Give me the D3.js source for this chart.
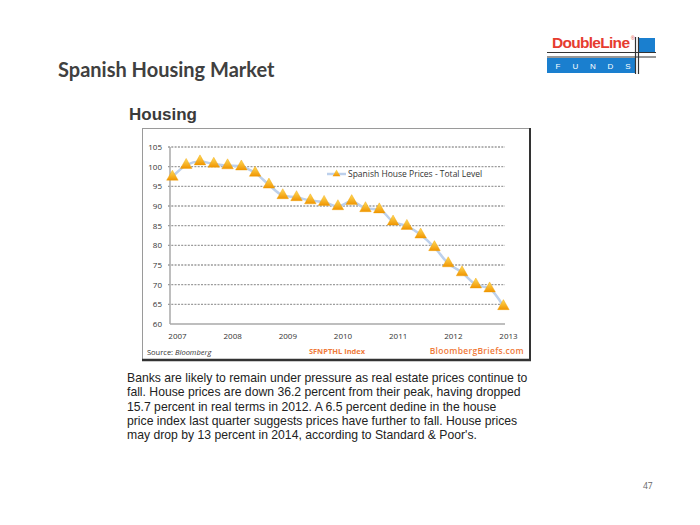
<!DOCTYPE html>
<html><head><meta charset="utf-8">
<script src="https://cdn.jsdelivr.net/npm/d3@7"></script>
<style>body{margin:0;background:#fff}svg{display:block}</style>
</head><body>
<svg id="c" width="700" height="525"></svg>
<script>
const quarters = ["2006Q4","2007Q1","2007Q2","2007Q3","2007Q4","2008Q1","2008Q2","2008Q3","2008Q4",
  "2009Q1","2009Q2","2009Q3","2009Q4","2010Q1","2010Q2","2010Q3","2010Q4","2011Q1","2011Q2","2011Q3",
  "2011Q4","2012Q1","2012Q2","2012Q3","2012Q4"];
const prices = [97.4,100.4,101.3,100.7,100.3,100.0,98.4,95.4,92.7,92.2,91.4,91.0,89.9,91.2,89.4,89.1,
  86.0,84.9,82.7,79.5,75.4,73.1,70.0,69.0,64.5];
const yTicks = [60,65,70,75,80,85,90,95,100,105];
const xTicks = [2007,2008,2009,2010,2011,2012,2013];
const seriesName = "Spanish House Prices - Total Level";
const bodyLines = [
 "Banks are likely to remain under pressure as real estate prices continue to",
 "fall. House prices are down 36.2 percent from their peak, having dropped",
 "15.7 percent in real terms in 2012. A 6.5 percent dedine in the house",
 "price index last quarter suggests prices have further to fall. House prices",
 "may drop by 13 percent in 2014, according to Standard & Poor's."
];

const svg = d3.select("#c");
const defs = svg.append("defs");
const g = defs.append("linearGradient").attr("id","tri").attr("x1",0).attr("y1",0).attr("x2",0).attr("y2",1);
g.append("stop").attr("offset","0%").attr("stop-color","#ffdc5a");
g.append("stop").attr("offset","100%").attr("stop-color","#f09400");

// Title
svg.append("text").attr("x",58).attr("y",77).attr("font-family","Lato").attr("font-weight","bold")
  .attr("font-size",20).attr("fill","#404040").text("Spanish Housing Market");

// Logo
const logo = svg.append("g");
logo.append("text").attr("x",552).attr("y",48).attr("font-family","Liberation Sans").attr("font-weight","bold")
  .attr("font-size",15.5).attr("fill","#e63c2f").attr("textLength",78).text("DoubleLine");
logo.append("text").attr("x",631).attr("y",40).attr("font-family","Liberation Sans").attr("font-size",5)
  .attr("fill","#e63c2f").text("®");
logo.append("rect").attr("x",547).attr("y",58).attr("width",88).attr("height",15).attr("fill","#1a7fcf");
logo.append("rect").attr("x",638).attr("y",38).attr("width",17).attr("height",14).attr("fill","#1a7fcf");
logo.append("line").attr("x1",547).attr("x2",656).attr("y1",52.5).attr("y2",52.5).attr("stroke","#333").attr("stroke-width",1.2);
logo.append("line").attr("x1",547).attr("x2",656).attr("y1",57).attr("y2",57).attr("stroke","#333").attr("stroke-width",1.2);
logo.append("line").attr("x1",635.5).attr("x2",635.5).attr("y1",37).attr("y2",74).attr("stroke","#333").attr("stroke-width",1.2);
logo.append("line").attr("x1",638.5).attr("x2",638.5).attr("y1",37).attr("y2",74).attr("stroke","#333").attr("stroke-width",1.2);
["F","U","N","D","S"].forEach((l,i)=>{
  logo.append("text").attr("x",558+i*17.5).attr("y",69).attr("font-family","Liberation Sans")
   .attr("font-size",8).attr("fill","#fff").attr("text-anchor","middle").text(l);
});

// Housing heading
svg.append("text").attr("x",129).attr("y",120).attr("font-family","Liberation Sans").attr("font-weight","bold")
  .attr("font-size",17).attr("fill","#3a3a3a").text("Housing");

// Chart box
svg.append("rect").attr("x",142.5).attr("y",128.5).attr("width",387).attr("height",231)
  .attr("fill","#fff").attr("stroke","#9a9a9a").attr("stroke-width",1);
svg.append("line").attr("x1",142).attr("x2",531).attr("y1",360).attr("y2",360).attr("stroke","#333").attr("stroke-width",2.5);
svg.append("line").attr("x1",530).attr("x2",530).attr("y1",128).attr("y2",361).attr("stroke","#333").attr("stroke-width",2);

const x = d3.scaleLinear().domain([2007,2013]).range([177,508]);
const y = d3.scaleLinear().domain([60,105]).range([324,147]);
const qx = q => { const yr=+q.slice(0,4), qq=+q.slice(5); return yr + (3*qq-1)/12; };
const left = 170, right = 505;

// gridlines
svg.append("g").selectAll("line").data(yTicks.filter(d=>d>60)).join("line")
  .attr("x1",left-2).attr("x2",right).attr("y1",d=>y(d)).attr("y2",d=>y(d))
  .attr("stroke","#9c9c9c").attr("stroke-width",1.3).attr("stroke-dasharray","2,1.3");
// axes lines
svg.append("line").attr("x1",left).attr("x2",right).attr("y1",y(60)).attr("y2",y(60)).attr("stroke","#a8a8a8").attr("stroke-width",1.5);
svg.append("line").attr("x1",left).attr("x2",left).attr("y1",y(105)).attr("y2",y(60)).attr("stroke","#a8a8a8").attr("stroke-width",1.5);

// y axis labels
const ya = svg.append("g").attr("transform",`translate(${left-3},0)`)
  .call(d3.axisLeft(y).tickValues(yTicks).tickSize(0).tickPadding(5));
ya.select(".domain").remove();
ya.selectAll("text").attr("font-family","Open Sans").attr("font-size",8).attr("fill","#333");

// x axis labels
const xa = svg.append("g").attr("transform",`translate(0,${y(60)+6})`)
  .call(d3.axisBottom(x).tickValues(xTicks).tickFormat(d3.format("d")).tickSize(0).tickPadding(3));
xa.select(".domain").remove();
xa.selectAll("text").attr("font-family","Open Sans").attr("font-size",8).attr("fill","#333");

// line
const data = quarters.map((q,i)=>({t:qx(q), v:prices[i]}));
svg.append("path").datum(data)
  .attr("d", d3.line().x(d=>x(d.t)).y(d=>y(d.v)).curve(d3.curveMonotoneX))
  .attr("fill","none").attr("stroke","#bcd0ec").attr("stroke-width",2.5);

const tri = d3.symbol().type(d3.symbolTriangle).size(58);
svg.append("g").selectAll("path").data(data).join("path")
  .attr("d",tri).attr("transform",d=>`translate(${x(d.t)},${y(d.v)})`)
  .attr("fill","url(#tri)").attr("stroke","#f0a000").attr("stroke-width",0.4);

// legend
svg.append("line").attr("x1",327).attr("x2",346).attr("y1",174).attr("y2",174).attr("stroke","#bcd0ec").attr("stroke-width",2.5);
svg.append("path").attr("d",d3.symbol().type(d3.symbolTriangle).size(26)).attr("transform","translate(336.5,174)")
  .attr("fill","url(#tri)");
svg.append("text").attr("x",348).attr("y",177).attr("font-family","Open Sans").attr("font-size",8.5)
  .attr("fill","#333").text(seriesName);

// footer in box
svg.append("text").attr("x",147).attr("y",355).attr("font-family","Open Sans").attr("font-size",7.5)
  .attr("fill","#333").html('Source: <tspan font-style="italic">Bloomberg</tspan>');
svg.append("text").attr("x",337).attr("y",354).attr("text-anchor","middle").attr("font-family","Open Sans")
  .attr("font-weight","bold").attr("font-size",7.5).attr("fill","#f07a3a").text("SFNPTHL Index");
svg.append("text").attr("x",524).attr("y",354).attr("text-anchor","end").attr("font-family","Open Sans")
  .attr("font-size",8.5).attr("font-weight","600").attr("fill","#f07a3a").attr("letter-spacing",0.3).text("BloombergBriefs.com");

// body text
svg.append("g").selectAll("text").data(bodyLines).join("text")
  .attr("x",127).attr("y",(d,i)=>382+i*14.3).attr("font-family","Liberation Sans").attr("font-size",12.2)
  .attr("fill","#222").text(d=>d);

// page number
svg.append("text").attr("x",643).attr("y",489).attr("font-family","Open Sans").attr("font-size",8.5)
  .attr("fill","#666").text("47");
</script>
</body></html>
